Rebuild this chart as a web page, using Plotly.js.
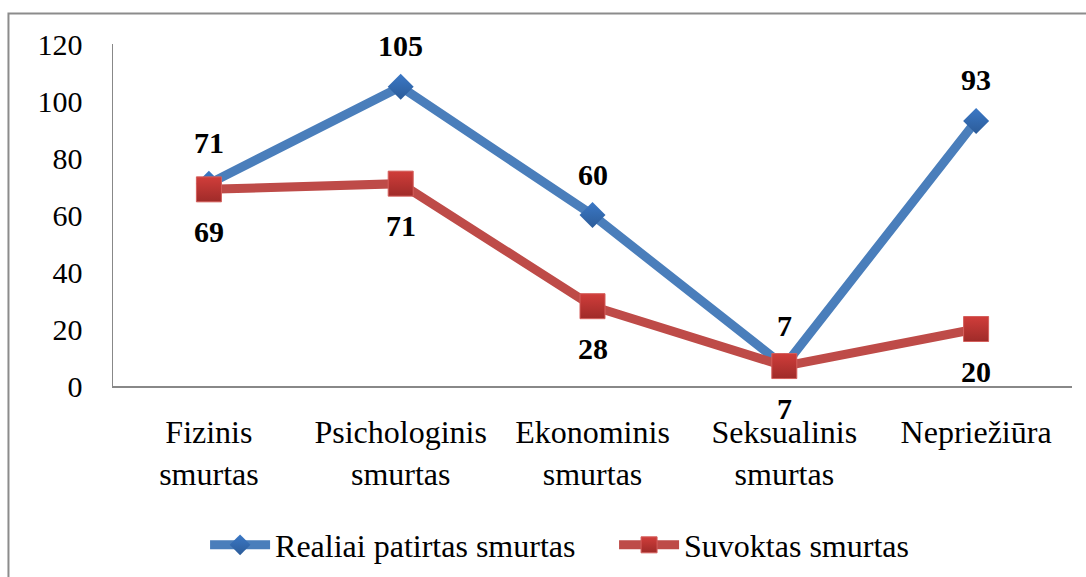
<!DOCTYPE html>
<html>
<head>
<meta charset="utf-8">
<script src="https://cdn.plot.ly/plotly-3.0.1.min.js"></script>
<style>html,body{margin:0;padding:0;background:#fff;}#chart{width:1086px;height:577px;}</style>
</head>
<body>
<div id="chart"></div>
<script>
const categories = ["Fizinis<br>smurtas", "Psichologinis<br>smurtas", "Ekonominis<br>smurtas", "Seksualinis<br>smurtas", "Nepriežiūra"];
const realiai = [71, 105, 60, 7, 93];
const suvoktas = [69, 71, 28, 7, 20];
const seriesNames = ["Realiai patirtas smurtas", "Suvoktas smurtas"];
const yTicks = [0, 20, 40, 60, 80, 100, 120];

const FONT = 'Liberation Serif';

const traces = [
  {
    x: categories, y: realiai, name: seriesNames[0], type: 'scatter', mode: 'lines+markers',
    line: {color: '#4A7EBB', width: 9},
    marker: {symbol: 'diamond', size: 20, color: '#3B78C6', gradient: {type: 'vertical', color: '#2C5C99'}, line: {color: '#3B78C6', width: 0}},
    hoverinfo: 'none'
  },
  {
    x: categories, y: suvoktas, name: seriesNames[1], type: 'scatter', mode: 'lines+markers',
    line: {color: '#BE4B48', width: 9},
    marker: {symbol: 'square', size: 25, color: '#D03D3A', gradient: {type: 'vertical', color: '#9F2B29'}, line: {color: '#D45F5C', width: 1}},
    hoverinfo: 'none'
  }
];

const annotations = [];
categories.forEach((c, i) => {
  annotations.push({x: c, y: realiai[i], xref: 'x', yref: 'y', text: '<b>' + realiai[i] + '</b>', showarrow: false, yshift: 41, font: {family: FONT, size: 30, color: '#000'}});
  annotations.push({x: c, y: suvoktas[i], xref: 'x', yref: 'y', text: '<b>' + suvoktas[i] + '</b>', showarrow: false, yshift: -42, font: {family: FONT, size: 30, color: '#000'}});
});

const layout = {
  width: 1086, height: 577,
  margin: {l: 113, r: 14, t: 44, b: 191, autoexpand: false},
  paper_bgcolor: '#fff', plot_bgcolor: '#fff',
  font: {family: FONT, size: 30, color: '#000'},
  showlegend: true,
  legend: {
    orientation: 'h', x: 0.096, xanchor: 'left', y: -0.465, yanchor: 'middle',
    font: {family: FONT, size: 32, color: '#000'},
    itemwidth: 60, entrywidth: 334, entrywidthmode: 'pixels',
    bgcolor: 'rgba(0,0,0,0)'
  },
  xaxis: {
    type: 'category', range: [-0.5, 4.5], showgrid: false, zeroline: false,
    showline: true, linecolor: '#888', linewidth: 1.5, ticks: '',
    tickfont: {family: FONT, size: 32, color: '#000'}, ticklabelstandoff: 17,
    fixedrange: true
  },
  yaxis: {
    range: [0, 120], tickvals: yTicks, ticktext: yTicks.map(String), showgrid: false, zeroline: false,
    showline: true, linecolor: '#888', linewidth: 1.5, ticks: '',
    tickfont: {family: FONT, size: 30, color: '#000'}, ticklabelstandoff: 23,
    fixedrange: true
  },
  annotations: annotations,
  shapes: [
    {type: 'rect', xref: 'paper', yref: 'paper', x0: -0.109, x1: 1.05, y0: -0.7, y1: 1.0892, line: {color: '#8c8c8c', width: 2}, fillcolor: 'rgba(0,0,0,0)', layer: 'below'}
  ]
};

Plotly.newPlot('chart', traces, layout, {displayModeBar: false, staticPlot: true});
</script>
</body>
</html>
